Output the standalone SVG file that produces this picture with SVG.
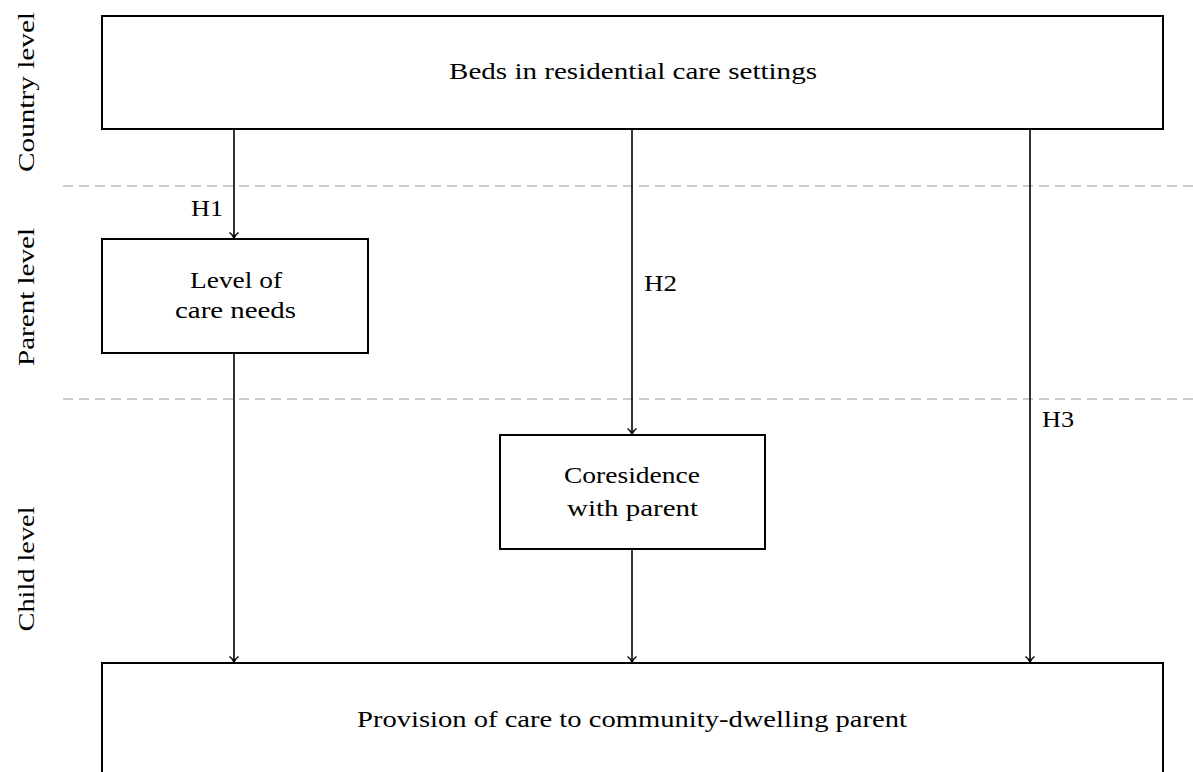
<svg xmlns="http://www.w3.org/2000/svg" width="1193" height="772" viewBox="0 0 1193 772">
<style>
.box{fill:#fff;stroke:#000;stroke-width:2}
.t{font-family:"Liberation Serif","DejaVu Serif",serif;font-size:24px;fill:#000}
.c{text-anchor:middle}
.dash{stroke:#999;stroke-width:1.2;stroke-dasharray:10 6;fill:none}
.arr{stroke:#000;stroke-width:1.6;fill:none;marker-end:url(#ah)}
</style>
<defs>
<marker id="ah" markerUnits="userSpaceOnUse" markerWidth="14" markerHeight="14" refX="7" refY="7" orient="auto" viewBox="0 0 14 14">
<path d="M1.5,2.5 Q4,6 7,7 Q4,8 1.5,11.5" fill="none" stroke="#000" stroke-width="1.5"/>
</marker>
</defs>
<rect width="1193" height="772" fill="#fff"/>
<g id="levels">
<line class="dash" x1="63" y1="186" x2="1193" y2="186"/>
<line class="dash" x1="63" y1="399" x2="1193" y2="399"/>
<text class="t c" transform="translate(34,92) rotate(-90)" textLength="160" lengthAdjust="spacingAndGlyphs">Country level</text>
<text class="t c" transform="translate(34,297) rotate(-90)" textLength="138" lengthAdjust="spacingAndGlyphs">Parent level</text>
<text class="t c" transform="translate(34,569) rotate(-90)" textLength="125" lengthAdjust="spacingAndGlyphs">Child level</text>
</g>
<g id="connectors">
<line class="arr" x1="234" y1="129" x2="234" y2="238"/>
<line class="arr" x1="632" y1="129" x2="632" y2="434"/>
<line class="arr" x1="1030" y1="129" x2="1030" y2="662"/>
<line class="arr" x1="234" y1="353" x2="234" y2="662"/>
<line class="arr" x1="632" y1="549" x2="632" y2="662"/>
<text class="t" x="191" y="216" textLength="32" lengthAdjust="spacingAndGlyphs">H1</text>
<text class="t" x="644" y="291" textLength="33" lengthAdjust="spacingAndGlyphs">H2</text>
<text class="t" x="1042" y="427" textLength="32" lengthAdjust="spacingAndGlyphs">H3</text>
</g>
<g id="beds">
<rect class="box" x="102" y="16" width="1061" height="113"/>
<text class="t c" x="633" y="79" textLength="368" lengthAdjust="spacingAndGlyphs">Beds in residential care settings</text>
</g>
<g id="careneeds">
<rect class="box" x="102" y="239" width="266" height="114"/>
<text class="t c" x="236" y="288" textLength="92" lengthAdjust="spacingAndGlyphs">Level of</text>
<text class="t c" x="235.5" y="318" textLength="121" lengthAdjust="spacingAndGlyphs">care needs</text>
</g>
<g id="coresidence">
<rect class="box" x="500" y="435" width="265" height="114"/>
<text class="t c" x="632" y="483" textLength="136" lengthAdjust="spacingAndGlyphs">Coresidence</text>
<text class="t c" x="632.5" y="516" textLength="131" lengthAdjust="spacingAndGlyphs">with parent</text>
</g>
<g id="provision">
<rect class="box" x="102" y="663" width="1061" height="120"/>
<text class="t c" x="632" y="727" textLength="550" lengthAdjust="spacingAndGlyphs">Provision of care to community-dwelling parent</text>
</g>
</svg>
